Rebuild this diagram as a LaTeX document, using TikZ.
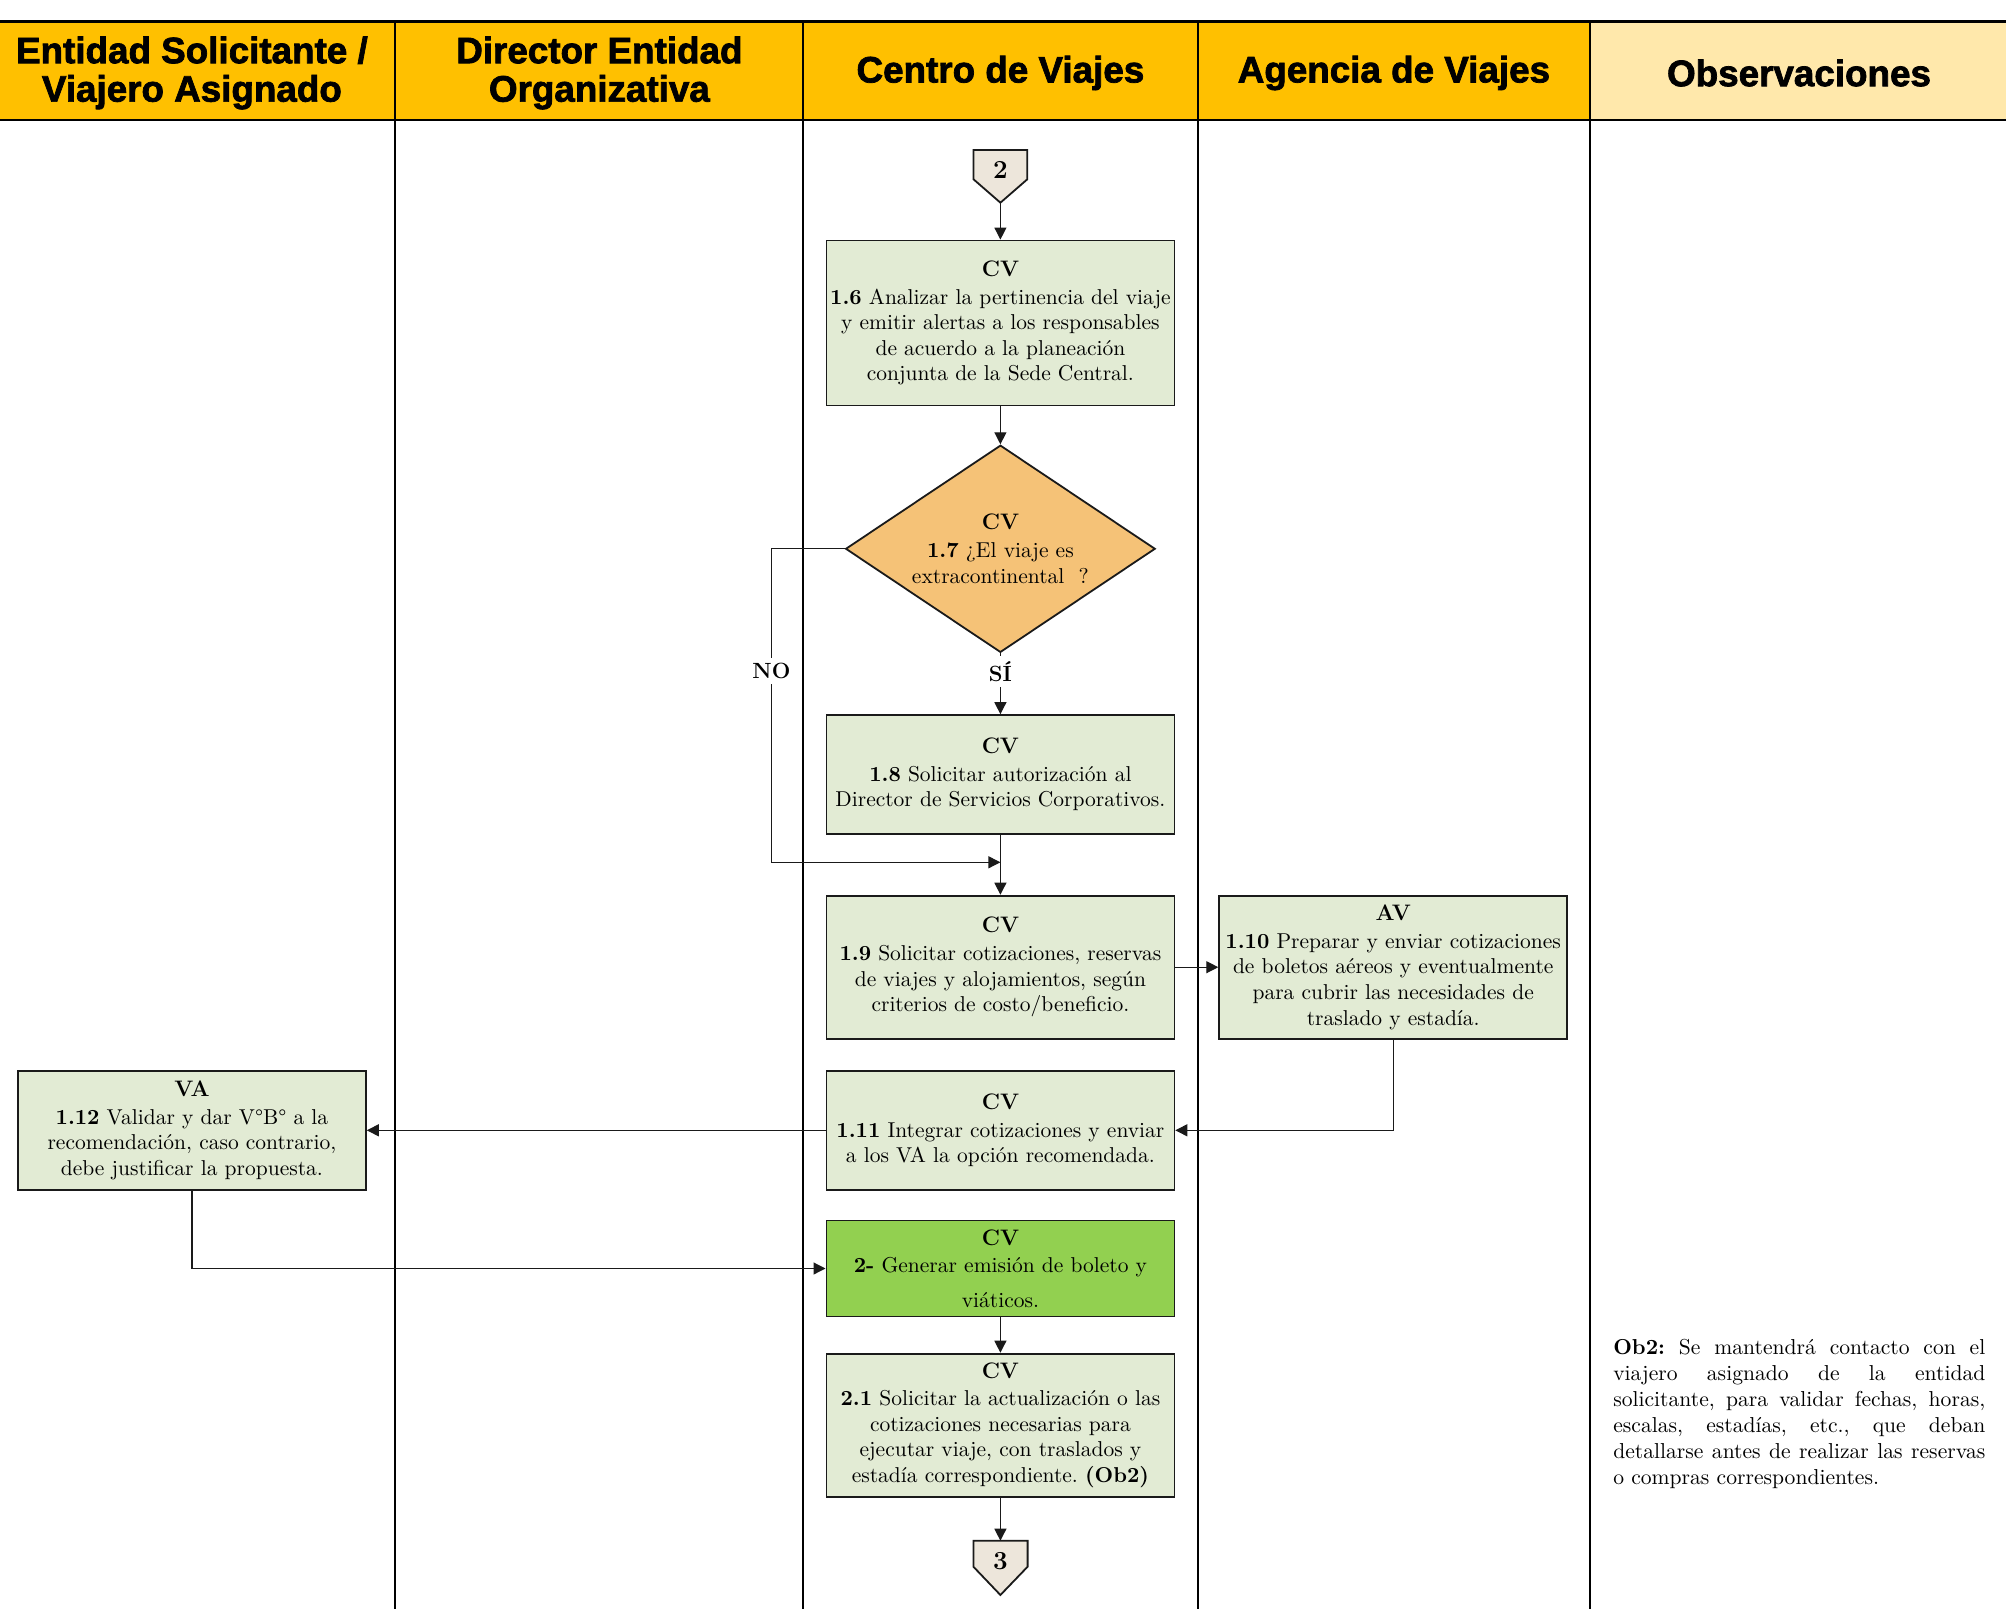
\documentclass[tikz,border=0pt]{standalone}
\usepackage{fontspec}
\usetikzlibrary{arrows.meta,shapes.geometric,calc}
\newfontfamily\hdrfont{Liberation Sans}[BoldFeatures={FakeBold=2}]
\definecolor{hdrgold}{HTML}{FFC000}
\definecolor{hdrlight}{HTML}{FFE8AB}
\definecolor{boxfill}{HTML}{E2EBD4}
\definecolor{boxgreen}{HTML}{92D050}
\definecolor{decfill}{HTML}{F5C277}
\definecolor{pgfill}{HTML}{EDE6DB}
\definecolor{edge}{HTML}{1A1A1A}
\newcommand\cvhead[1]{{\bfseries\fontsize{11.2}{13}\selectfont #1}\\[1pt]}
\frenchspacing

\begin{document}
\begin{tikzpicture}[x=0.5pt,y=-0.5pt,
  hdr/.style={font=\hdrfont\bfseries\fontsize{18.4}{19.2}\selectfont, align=center, inner sep=0pt},
  body/.style={font=\fontsize{10.75}{12.8}\selectfont, align=center, inner sep=0pt},
  stepbox/.style={body, draw=edge, line width=0.9pt, fill=boxfill, minimum width=174pt},
  decision/.style={body, diamond, draw=edge, line width=0.9pt, fill=decfill,
    minimum width=154.8pt, minimum height=103.6pt, aspect=1.5},
  flow/.style={line width=0.6pt, draw=edge},
  arr/.style={flow, -{Triangle[length=6pt,width=6pt]}},
  lbl/.style={font=\bfseries\fontsize{11}{13}\selectfont, fill=white, inner sep=2.5pt},
  offpage/.style={draw=edge, line width=0.9pt, fill=pgfill},
  digit/.style={font=\bfseries\fontsize{13}{15}\selectfont, inner sep=0pt},
  lane/.style={line width=1pt, draw=black},
  rule/.style={line width=1.2pt, draw=black},
]
\useasboundingbox[fill=white] (0,0) rectangle (2006,1609);

% header band
\fill[hdrgold] (0,21.7) rectangle (1590.2,120.3);
\fill[hdrlight] (1590.2,21.7) rectangle (2006,120.3);
\draw[rule] (0,21.7) -- (2006,21.7);
\draw[rule] (0,120.3) -- (2006,120.3);

% lane separators
\foreach \lx in {395.3,803.4,1197.5,1590.2}
  \draw[lane] (\lx,21.7) -- (\lx,1609);

% lane titles
\node[hdr] (h1) at (191.9,73) {Entidad Solicitante /\\Viajero Asignado};
\node[hdr] (h2) at (599.4,73) {Director Entidad\\Organizativa};
\node[hdr] (h3) at (1000.4,73) {Centro de Viajes};
\node[hdr] (h4) at (1393.9,73) {Agencia de Viajes};
\node[hdr] (h5) at (1799,73) {Observaciones};

% off-page connector 2
\draw[offpage] (973.5,150) -- (1027.3,150) -- (1027.3,179.3) -- (1000.4,202.7) -- (973.5,179.3) -- cycle;
\node[digit] (c2) at (1000.4,169.5) {2};
\coordinate (c2tip) at (1000.4,202.7);

% process steps
\node[stepbox, minimum height=82.5pt] (b16) at (1000.4,323)
  {\cvhead{CV}\textbf{1.6} Analizar la pertinencia del viaje\\y emitir alertas a los responsables\\de acuerdo a la planeación\\conjunta de la Sede Central.};

\node[decision] (d17) at (1000.4,548.8)
  {\cvhead{CV}\textbf{1.7} ¿El viaje es\\extracontinental\ \ ?};

\node[stepbox, minimum height=59.5pt] (b18) at (1000.4,774.6)
  {\cvhead{CV}\textbf{1.8} Solicitar autorización al\\Director de Servicios Corporativos.};

\node[stepbox, minimum height=71.6pt] (b19) at (1000.4,967.2)
  {\cvhead{CV}\textbf{1.9} Solicitar cotizaciones, reservas\\de viajes y alojamientos, según\\criterios de costo/beneficio.};

\node[stepbox, minimum height=71.6pt] (b110) at (1393.2,967.2)
  {\cvhead{AV}\textbf{1.10} Preparar y enviar cotizaciones\\de boletos aéreos y eventualmente\\para cubrir las necesidades de\\traslado y estadía.};

\node[stepbox, minimum height=59.5pt] (b111) at (1000.4,1130.3)
  {\cvhead{CV}\textbf{1.11} Integrar cotizaciones y enviar\\a los VA la opción recomendada.};

\node[stepbox, minimum height=59.5pt] (b112) at (191.9,1130.3)
  {\cvhead{VA}\textbf{1.12} Validar y dar V°B° a la\\recomendación, caso contrario,\\debe justificar la propuesta.};

\node[stepbox, fill=boxgreen, minimum height=48pt] (b2) at (1000.4,1268.5)
  {\cvhead{CV}\textbf{2-} Generar emisión de boleto y\\[4.5pt]viáticos.};

\node[stepbox, minimum height=71.6pt] (b21) at (1000.4,1425.2)
  {\cvhead{CV}\textbf{2.1} Solicitar la actualización o las\\cotizaciones necesarias para\\ejecutar viaje, con traslados y\\estadía correspondiente. \textbf{(Ob2)}};

% off-page connector 3
\draw[offpage] (973.4,1540.7) -- (1027.6,1540.7) -- (1027.6,1566.7) -- (1000.4,1595) -- (973.4,1566.7) -- cycle;
\node[digit] (c3) at (1000.4,1561) {3};
\coordinate (c3top) at (1000.4,1540.7);

% observation note, justified with fixed line breaks
\node[font=\fontsize{10.8}{12.94}\selectfont, text width=186pt, align=justify, inner sep=0pt] (ob2) at (1799.3,1414)
  {\textbf{Ob2:} Se mantendrá contacto con el\linebreak
   viajero asignado de la entidad\linebreak
   solicitante, para validar fechas, horas,\linebreak
   escalas, estadías, etc., que deban\linebreak
   detallarse antes de realizar las reservas\linebreak
   o compras correspondientes.};

% connectors
\coordinate (nobend1) at (771.4,548.8);
\coordinate (nobend2) at (771.4,862.3);
\coordinate (nojoin) at (1000.4,862.3);

\draw[arr] (c2tip) -- (b16.north);
\draw[arr] (b16.south) -- (d17.north);
\draw[arr] (d17.south) -- node[lbl, pos=0.3] {SÍ} (b18.north);
\draw[arr] (d17.west) -- (nobend1) -- node[lbl, pos=0.39] {NO} (nobend2) -- (nojoin);
\draw[arr] (b18.south) -- (b19.north);
\draw[arr] (b19.east) -- (b110.west);
\draw[arr] (b110.south) |- (b111.east);
\draw[arr] (b111.west) -- (b112.east);
\draw[arr] (b112.south) |- (b2.west);
\draw[arr] (b2.south) -- (b21.north);
\draw[arr] (b21.south) -- (c3top);
\end{tikzpicture}
\end{document}
